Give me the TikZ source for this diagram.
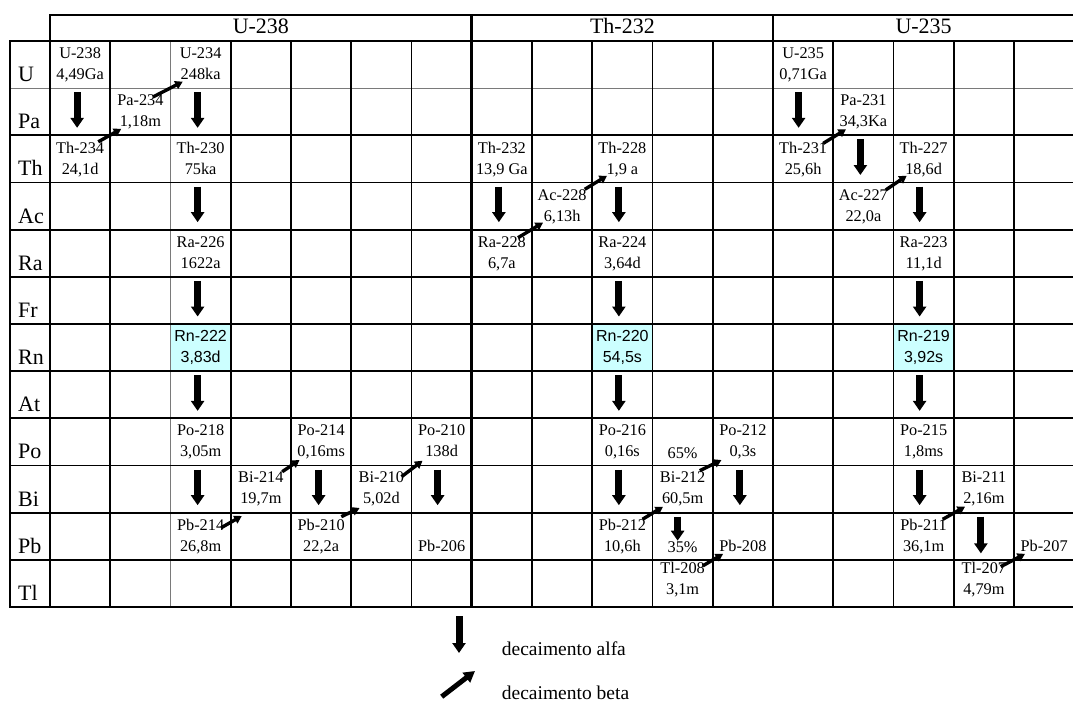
\documentclass[tikz,border=0pt]{standalone}
\usepackage{fontspec}
\setmainfont{Liberation Serif}
\newfontfamily\sansf{Liberation Sans}
\usetikzlibrary{arrows.meta,calc}
\definecolor{rncyan}{HTML}{CCFFFF}
\definecolor{gridgray}{HTML}{7A7A7A}
\newcommand\nuc[2]{\vtop{\baselineskip=21pt\lineskiplimit=-20pt\lineskip=0pt\halign{\hfil##\hfil\cr#1\cr#2\cr}}}
\begin{document}
\begin{tikzpicture}[x=1pt,y=-1pt,
  thickline/.style={line width=2.9pt,line cap=rect},
  gridline/.style={line width=1.9pt},
  thinline/.style={line width=1.1pt,draw=gridgray},
  cellbox/.style={inner sep=0pt,outer sep=0pt,minimum width=60.25pt,minimum height=47.17pt},
  nuctxt/.style={inner sep=0pt,anchor=base,font=\fontsize{16.3}{21}\selectfont},
  rntxt/.style={inner sep=0pt,anchor=base,font=\fontsize{16}{21}\selectfont\sansf},
  rowlab/.style={inner sep=0pt,anchor=base west,font=\fontsize{22}{26}\selectfont},
  grouplab/.style={inner sep=0pt,anchor=base,font=\fontsize{22}{26}\selectfont},
  legtxt/.style={inner sep=0pt,anchor=base west,font=\fontsize{19.5}{24}\selectfont},
  alphaarrow/.style={line width=7pt,-{Triangle[width=13pt,length=10pt]}},
  betaarrow/.style={line width=3.4pt,-{Triangle[width=8.5pt,length=7.5pt]}},
  legbeta/.style={line width=5pt,-{Triangle[width=12pt,length=11pt]}}]
\useasboundingbox (0,0) rectangle (1073,703);

% grid corners and cells
\foreach \i in {1,...,18}{\foreach \j in {1,...,13}{
  \coordinate (g-\i-\j) at ({50+60.25*(\i-1)},{41+47.17*(\j-1)});}}
\foreach \r in {1,...,12}{\foreach \c in {1,...,17}{
  \node[cellbox] (cell-\r-\c) at ({50+60.25*(\c-0.5)},{41+47.17*(\r-0.5)}) {};}}

% radon cells
\fill[rncyan] (g-3-7) rectangle (g-4-8);
\fill[rncyan] (g-10-7) rectangle (g-11-8);
\fill[rncyan] (g-15-7) rectangle (g-16-8);

% grid lines
\draw[thinline] (10,88.17) -- (1074.25,88.17);
\draw[thinline] (g-3-1) -- (g-3-13);
\foreach \j in {3,...,12}{\draw[gridline] (10,{41+47.17*(\j-1)}) -- (1074.25,{41+47.17*(\j-1)});}
\foreach \i in {2,4,5,6,7,9,10,11,12,14,15,16,17}{\draw[gridline] (g-\i-1) -- (g-\i-13);}
\draw[thickline] (10,41) -- (1074.25,41);
\draw[thickline] (10,41) -- (10,607.04) -- (1074.25,607.04);
\draw[thickline] (50,15) -- (1074.25,15);
\draw[thickline] (50,15) -- (50,607.04);
\draw[thickline] (471.75,15) -- (471.75,607.04);
\draw[thickline] (773,15) -- (773,607.04);
\draw[thickline] (1074.25,15) -- (1074.25,607.04);

% headers
\node[grouplab] (hU238) at ($(g-1-1)!0.5!(g-8-1)+(0,-7.7)$) {U-238};
\node[grouplab] (hTh232) at ($(g-8-1)!0.5!(g-13-1)+(0,-7.7)$) {Th-232};
\node[grouplab] (hU235) at ($(g-13-1)!0.5!(g-18-1)+(0,-7.7)$) {U-235};

% row labels
\foreach \lab [count=\r] in {U,Pa,Th,Ac,Ra,Fr,Rn,At,Po,Bi,Pb,Tl}{
  \node[rowlab] (lab-\r) at (18,{41+47.17*(\r-1)+40.5}) {\lab};}

% U-238 chain
\node[nuctxt] (U238) at ($(cell-1-1.north)+(0,18)$) {\nuc{U-238}{4,49Ga}};
\node[nuctxt] (Th234) at ($(cell-3-1.north)+(0,18)$) {\nuc{Th-234}{24,1d}};
\node[nuctxt] (Pa234) at ($(cell-2-2.north)+(0,17.5)$) {\nuc{Pa-234}{1,18m}};
\node[nuctxt] (U234) at ($(cell-1-3.north)+(0,18)$) {\nuc{U-234}{248ka}};
\node[nuctxt] (Th230) at ($(cell-3-3.north)+(0,18)$) {\nuc{Th-230}{75ka}};
\node[nuctxt] (Ra226) at ($(cell-5-3.north)+(0,18)$) {\nuc{Ra-226}{1622a}};
\node[rntxt] (Rn222) at ($(cell-7-3.north)+(0,17.7)$) {\nuc{Rn-222}{3,83d}};
\node[nuctxt] (Po218) at ($(cell-9-3.north)+(0,17.5)$) {\nuc{Po-218}{3,05m}};
\node[nuctxt] (Pb214) at ($(cell-11-3.north)+(0,17.5)$) {\nuc{Pb-214}{26,8m}};
\node[nuctxt] (Bi214) at ($(cell-10-4.north)+(0,16.5)$) {\nuc{Bi-214}{19,7m}};
\node[nuctxt] (Po214) at ($(cell-9-5.north)+(0,17.5)$) {\nuc{Po-214}{0,16ms}};
\node[nuctxt] (Pb210) at ($(cell-11-5.north)+(0,17.5)$) {\nuc{Pb-210}{22,2a}};
\node[nuctxt] (Bi210) at ($(cell-10-6.north)+(0,16.5)$) {\nuc{Bi-210}{5,02d}};
\node[nuctxt] (Po210) at ($(cell-9-7.north)+(0,17.5)$) {\nuc{Po-210}{138d}};
\node[nuctxt] (Pb206) at ($(cell-11-7.north)+(0,39)$) {Pb-206};

% Th-232 chain
\node[nuctxt] (Th232) at ($(cell-3-8.north)+(0,18)$) {\nuc{Th-232}{13,9 Ga}};
\node[nuctxt] (Ra228) at ($(cell-5-8.north)+(0,18)$) {\nuc{Ra-228}{6,7a}};
\node[nuctxt] (Ac228) at ($(cell-4-9.north)+(0,18)$) {\nuc{Ac-228}{6,13h}};
\node[nuctxt] (Th228) at ($(cell-3-10.north)+(0,18)$) {\nuc{Th-228}{1,9 a}};
\node[nuctxt] (Ra224) at ($(cell-5-10.north)+(0,18)$) {\nuc{Ra-224}{3,64d}};
\node[rntxt] (Rn220) at ($(cell-7-10.north)+(0,17.7)$) {\nuc{Rn-220}{54,5s}};
\node[nuctxt] (Po216) at ($(cell-9-10.north)+(0,17.5)$) {\nuc{Po-216}{0,16s}};
\node[nuctxt] (Pb212) at ($(cell-11-10.north)+(0,17.5)$) {\nuc{Pb-212}{10,6h}};
\node[nuctxt] (Bi212) at ($(cell-10-11.north)+(0,16.5)$) {\nuc{Bi-212}{60,5m}};
\node[nuctxt] (Po212) at ($(cell-9-12.north)+(0,17.5)$) {\nuc{Po-212}{0,3s}};
\node[nuctxt] (Tl208) at ($(cell-12-11.north)+(0,13.5)$) {\nuc{Tl-208}{3,1m}};
\node[nuctxt] (Pb208) at ($(cell-11-12.north)+(0,39)$) {Pb-208};
\node[nuctxt] (p65) at ($(cell-9-11.north)+(0,40)$) {65\%};
\node[nuctxt] (p35) at ($(cell-11-11.north)+(0,40)$) {35\%};

% U-235 chain
\node[nuctxt] (U235) at ($(cell-1-13.north)+(0,18)$) {\nuc{U-235}{0,71Ga}};
\node[nuctxt] (Th231) at ($(cell-3-13.north)+(0,18)$) {\nuc{Th-231}{25,6h}};
\node[nuctxt] (Pa231) at ($(cell-2-14.north)+(0,17.5)$) {\nuc{Pa-231}{34,3Ka}};
\node[nuctxt] (Ac227) at ($(cell-4-14.north)+(0,18)$) {\nuc{Ac-227}{22,0a}};
\node[nuctxt] (Th227) at ($(cell-3-15.north)+(0,18)$) {\nuc{Th-227}{18,6d}};
\node[nuctxt] (Ra223) at ($(cell-5-15.north)+(0,18)$) {\nuc{Ra-223}{11,1d}};
\node[rntxt] (Rn219) at ($(cell-7-15.north)+(0,17.7)$) {\nuc{Rn-219}{3,92s}};
\node[nuctxt] (Po215) at ($(cell-9-15.north)+(0,17.5)$) {\nuc{Po-215}{1,8ms}};
\node[nuctxt] (Pb211) at ($(cell-11-15.north)+(0,17.5)$) {\nuc{Pb-211}{36,1m}};
\node[nuctxt] (Bi211) at ($(cell-10-16.north)+(0,16.5)$) {\nuc{Bi-211}{2,16m}};
\node[nuctxt] (Tl207) at ($(cell-12-16.north)+(0,13.5)$) {\nuc{Tl-207}{4,79m}};
\node[nuctxt] (Pb207) at ($(cell-11-17.north)+(0,39)$) {Pb-207};

% alpha decays (arrow inside the cell between parent and daughter)
\foreach \r/\c/\dx in {2/1/-3, 2/3/-3, 4/3/-3, 6/3/-3, 8/3/-3, 10/3/-3, 10/5/-2.5, 10/7/-4,
  4/8/-3, 4/10/-3.5, 6/10/-3.5, 8/10/-3.5, 10/10/-3.5, 10/12/-3,
  2/13/-4.5, 3/14/-3, 4/15/-4, 6/15/-4, 8/15/-4, 10/15/-4}{
  \draw[alphaarrow] ($(cell-\r-\c.north)+(\dx,4)$) -- ($(cell-\r-\c.south)+(\dx,-7.5)$);}
\draw[alphaarrow] ($(cell-11-11.north)+(-5,4)$) -- ($(cell-11-11.north)+(-5,28)$);
\draw[alphaarrow] ($(cell-11-16.north)+(-3,4)$) -- ($(cell-11-16.south)+(-3,-6.5)$);

% beta decays (arrow across the shared cell corner)
\draw[betaarrow] ($(g-2-3)+(-12,6.5)$) -- ($(g-2-3)+(11,-6.5)$);
\draw[betaarrow] ($(g-3-2)+(-17.5,8.8)$) -- ($(g-3-2)+(12.2,-6.5)$);
\draw[betaarrow] ($(g-4-11)+(-9.5,15)$) -- ($(g-4-11)+(11,3.3)$);
\draw[betaarrow] ($(g-5-10)+(-8.8,6.2)$) -- ($(g-5-10)+(8.5,-5.5)$);
\draw[betaarrow] ($(g-6-11)+(-10,4)$) -- ($(g-6-11)+(8.3,-4.7)$);
\draw[betaarrow] ($(g-7-10)+(-10,11.2)$) -- ($(g-7-10)+(11,-4.8)$);
\draw[betaarrow] ($(g-9-5)+(-14,8)$) -- ($(g-9-5)+(11,-7)$);
\draw[betaarrow] ($(g-10-4)+(-7.5,6.8)$) -- ($(g-10-4)+(14.8,-6.8)$);
\draw[betaarrow] ($(g-11-11)+(-10,6.6)$) -- ($(g-11-11)+(10.5,-6)$);
\draw[betaarrow] ($(g-12-10)+(-13,5.2)$) -- ($(g-12-10)+(8.7,-5.5)$);
\draw[betaarrow] ($(g-12-12)+(-10,6)$) -- ($(g-12-12)+(10.3,-6)$);
\draw[betaarrow] ($(g-14-3)+(-10,8)$) -- ($(g-14-3)+(12.75,-6)$);
\draw[betaarrow] ($(g-15-4)+(-7.8,7.5)$) -- ($(g-15-4)+(13.2,-6.8)$);
\draw[betaarrow] ($(g-16-11)+(-11,6.6)$) -- ($(g-16-11)+(11.25,-6)$);
\draw[betaarrow] ($(g-17-12)+(-13.3,6.8)$) -- ($(g-17-12)+(11,-6)$);

% legend
\node[legtxt] (legA) at (501.7,655) {decaimento alfa};
\node[legtxt] (legB) at (501.7,699) {decaimento beta};
\draw[alphaarrow] ($(legA.base west)+(-42.7,-39)$) -- ($(legA.base west)+(-42.7,-2)$);
\draw[legbeta] ($(legB.base west)+(-60,-2.3)$) -- ($(legB.base west)+(-26.7,-28)$);
\end{tikzpicture}
\end{document}
